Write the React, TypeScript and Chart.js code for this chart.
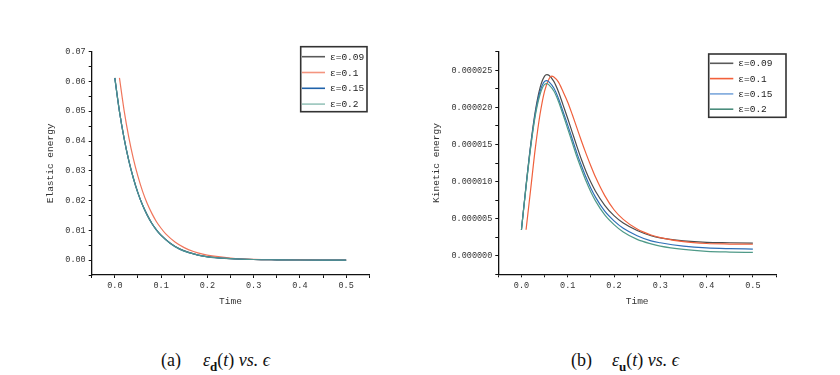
import React, { useEffect, useRef } from "react";
import { Chart, registerables } from "chart.js";

Chart.register(...registerables);

// ---------- DATA ----------
const seriesLabels = ["ε=0.09", "ε=0.1", "ε=0.15", "ε=0.2"];

// Elastic energy (a)
const elasticTime = [0, 0.01, 0.02, 0.03, 0.04, 0.05, 0.06, 0.07, 0.08, 0.09, 0.1, 0.12, 0.14, 0.16, 0.18, 0.2, 0.25, 0.3, 0.35, 0.4, 0.45, 0.5];
const elasticTimeEps01 = [0.01, 0.02, 0.03, 0.04, 0.05, 0.06, 0.07, 0.08, 0.09, 0.1, 0.11, 0.13, 0.15, 0.17, 0.19, 0.21, 0.25, 0.3, 0.35, 0.4, 0.45, 0.5];
const elasticEps009 = [0.0612, 0.05, 0.041, 0.0336, 0.0276, 0.0226, 0.0185, 0.0152, 0.0124, 0.0102, 0.0084, 0.0057, 0.0038, 0.0026, 0.0017, 0.0012, 0.0005, 0.0002, 0.0001, 0.00005, 0.00002, 0.00001];
const elasticEps01 = [0.0612, 0.0503, 0.0414, 0.0341, 0.0281, 0.0231, 0.019, 0.0157, 0.0129, 0.0107, 0.0088, 0.0061, 0.0042, 0.0029, 0.002, 0.0014, 0.0007, 0.00025, 0.0001, 0.00005, 0.00002, 0.00001];
const elasticEps015 = [0.0611, 0.0499, 0.0409, 0.0335, 0.0275, 0.0225, 0.0184, 0.0151, 0.0123, 0.0101, 0.0083, 0.0056, 0.0037, 0.0025, 0.0017, 0.0011, 0.0005, 0.0002, 0.0001, 0.00004, 0.00002, 0.00001];
const elasticEps02 = [0.0611, 0.0499, 0.0409, 0.0335, 0.0275, 0.0225, 0.0184, 0.0151, 0.0123, 0.0101, 0.0083, 0.0056, 0.0037, 0.0025, 0.0017, 0.0011, 0.0005, 0.0002, 0.0001, 0.00004, 0.00002, 0.00001];

// Kinetic energy (b)
const kineticTime = [0, 0.01, 0.02, 0.03, 0.04, 0.05, 0.055, 0.06, 0.07, 0.08, 0.09, 0.1, 0.11, 0.12, 0.13, 0.14, 0.15, 0.16, 0.18, 0.2, 0.22, 0.25, 0.28, 0.3, 0.35, 0.4, 0.45, 0.5];
const kineticTimeEps01 = [0.01, 0.02, 0.03, 0.04, 0.05, 0.06, 0.065, 0.07, 0.08, 0.09, 0.1, 0.11, 0.12, 0.13, 0.14, 0.15, 0.16, 0.18, 0.2, 0.22, 0.25, 0.28, 0.3, 0.35, 0.4, 0.45, 0.5];
const kineticEps009 = [3.5e-6, 9.5e-6, 15.0e-6, 19.5e-6, 22.6e-6, 24.2e-6, 24.4e-6, 24.3e-6, 23.5e-6, 22.1e-6, 20.3e-6, 18.5e-6, 16.6e-6, 14.7e-6, 12.9e-6, 11.3e-6, 9.9e-6, 8.7e-6, 6.8e-6, 5.4e-6, 4.4e-6, 3.4e-6, 2.7e-6, 2.4e-6, 2.0e-6, 1.8e-6, 1.75e-6, 1.7e-6];
const kineticEps01 = [3.5e-6, 9.0e-6, 14.5e-6, 19.0e-6, 22.2e-6, 23.9e-6, 24.2e-6, 24.1e-6, 23.4e-6, 22.1e-6, 20.7e-6, 19.0e-6, 17.2e-6, 15.4e-6, 13.7e-6, 12.1e-6, 10.6e-6, 8.1e-6, 6.2e-6, 4.9e-6, 3.6e-6, 2.8e-6, 2.45e-6, 1.9e-6, 1.65e-6, 1.58e-6, 1.55e-6];
const kineticEps015 = [3.5e-6, 9.4e-6, 14.8e-6, 19.2e-6, 22.1e-6, 23.5e-6, 23.6e-6, 23.4e-6, 22.6e-6, 21.2e-6, 19.4e-6, 17.6e-6, 15.7e-6, 13.8e-6, 12.1e-6, 10.5e-6, 9.1e-6, 7.9e-6, 6.0e-6, 4.7e-6, 3.7e-6, 2.7e-6, 2.0e-6, 1.75e-6, 1.3e-6, 1.05e-6, 0.95e-6, 0.9e-6];
const kineticEps02 = [3.5e-6, 9.3e-6, 14.6e-6, 18.9e-6, 21.7e-6, 23.1e-6, 23.2e-6, 23.0e-6, 22.2e-6, 20.8e-6, 19.0e-6, 17.1e-6, 15.2e-6, 13.3e-6, 11.6e-6, 10.0e-6, 8.6e-6, 7.4e-6, 5.5e-6, 4.2e-6, 3.2e-6, 2.2e-6, 1.6e-6, 1.3e-6, 0.85e-6, 0.6e-6, 0.5e-6, 0.45e-6];

// Ticks
const xTickValues = [-0.05, 0, 0.05, 0.1, 0.15, 0.2, 0.25, 0.3, 0.35, 0.4, 0.45, 0.5, 0.55];
const xTickLabels = ["", "0.0", "", "0.1", "", "0.2", "", "0.3", "", "0.4", "", "0.5", ""];
const elasticYTickValues = [-0.005, 0, 0.005, 0.01, 0.015, 0.02, 0.025, 0.03, 0.035, 0.04, 0.045, 0.05, 0.055, 0.06, 0.065, 0.07];
const elasticYTickLabels = ["", "0.00", "", "0.01", "", "0.02", "", "0.03", "", "0.04", "", "0.05", "", "0.06", "", "0.07"];
const kineticYTickValues = [-2.5e-6, 0, 2.5e-6, 5e-6, 7.5e-6, 10e-6, 12.5e-6, 15e-6, 17.5e-6, 20e-6, 22.5e-6, 25e-6, 27.5e-6];
const kineticYTickLabels = ["", "0.000000", "", "0.000005", "", "0.000010", "", "0.000015", "", "0.000020", "", "0.000025", ""];

// ---------- STYLE ----------
const MONO = "'Liberation Mono', 'DejaVu Sans Mono', monospace";
const elasticLineColors = ["#555555", "#f0765c", "#2a68aa", "#4e9490"];
const elasticLegendColors = ["#5a5a5a", "#f4957f", "#1f62aa", "#98c4bb"];
const kineticLineColors = ["#4d4d4d", "#f0603c", "#2f6fb8", "#4f9a88"];
const kineticLegendColors = ["#5a5a5a", "#f2603a", "#7ba7dc", "#4a8c7c"];

const toPoints = (xs: number[], ys: number[]) => xs.map((x, i) => ({ x, y: ys[i] }));

const boxLegend = {
  id: "boxLegend",
  afterDraw(chart: any, _args: any, opts: any) {
    const { ctx } = chart;
    ctx.save();
    ctx.fillStyle = "#ffffff";
    ctx.fillRect(opts.left, opts.top, opts.width, opts.height);
    ctx.strokeStyle = "#333333";
    ctx.lineWidth = 1.6;
    ctx.strokeRect(opts.left, opts.top, opts.width, opts.height);
    ctx.font = `9.5px ${MONO}`;
    ctx.textBaseline = "middle";
    ctx.textAlign = "left";
    opts.labels.forEach((lab: string, i: number) => {
      const y = opts.firstRow + i * opts.rowGap;
      ctx.strokeStyle = opts.colors[i];
      ctx.lineWidth = 1.6;
      ctx.beginPath();
      ctx.moveTo(opts.lineX0, y);
      ctx.lineTo(opts.lineX1, y);
      ctx.stroke();
      ctx.fillStyle = "#222222";
      ctx.fillText(lab, opts.textX, y + 0.5);
    });
    ctx.restore();
  },
};

function makeConfig(p: any) {
  const datasets = p.series.map((s: any, i: number) => ({
    label: seriesLabels[i],
    data: toPoints(s.t, s.v),
    borderColor: p.lineColors[i],
    borderWidth: 1.2,
    pointRadius: 0,
    fill: false,
    cubicInterpolationMode: "monotone",
    order: 4 - i,
  }));
  const tickFont = { family: MONO, size: 8.5 };
  const titleFont = { family: MONO, size: 9.5 };
  return {
    type: "line",
    data: { datasets },
    plugins: [boxLegend],
    options: {
      animation: false,
      responsive: false,
      events: [],
      layout: { padding: p.padding },
      plugins: {
        legend: { display: false },
        tooltip: { enabled: false },
        boxLegend: p.legend,
      },
      scales: {
        x: {
          type: "linear",
          min: -0.05,
          max: 0.55,
          border: { display: true, color: "#111", width: 1.3 },
          grid: { display: true, drawOnChartArea: false, drawTicks: true, tickLength: 3, color: "#111", lineWidth: 1 },
          afterBuildTicks: (s: any) => {
            s.ticks = xTickValues.map((value) => ({ value }));
          },
          ticks: {
            autoSkip: false,
            maxRotation: 0,
            padding: 3,
            color: "#333",
            font: tickFont,
            callback: (_v: any, i: number) => xTickLabels[i],
          },
          title: { display: true, text: "Time", color: "#333", font: titleFont, padding: 0 },
          afterFit: (s: any) => {
            s.height = 32.4;
          },
        },
        y: {
          type: "linear",
          min: p.yMin,
          max: p.yMax,
          border: { display: true, color: "#111", width: 1.3 },
          grid: { display: true, drawOnChartArea: false, drawTicks: true, tickLength: 3, color: "#111", lineWidth: 1 },
          afterBuildTicks: (s: any) => {
            s.ticks = p.yTickValues.map((value: number) => ({ value }));
          },
          ticks: {
            autoSkip: false,
            padding: 3,
            color: "#333",
            font: tickFont,
            callback: (_v: any, i: number) => p.yTickLabels[i],
          },
          title: { display: true, text: p.yTitle, color: "#333", font: titleFont, padding: 0 },
          afterFit: (s: any) => {
            s.width = p.yWidth;
          },
        },
      },
    },
  };
}

const configA = () =>
  makeConfig({
    series: [
      { t: elasticTime, v: elasticEps009 },
      { t: elasticTimeEps01, v: elasticEps01 },
      { t: elasticTime, v: elasticEps015 },
      { t: elasticTime, v: elasticEps02 },
    ],
    lineColors: elasticLineColors,
    padding: { left: 45, top: 51.7, right: 50.7, bottom: 27.6 },
    yWidth: 46.7,
    yMin: -0.005,
    yMax: 0.07,
    yTickValues: elasticYTickValues,
    yTickLabels: elasticYTickLabels,
    yTitle: "Elastic energy",
    legend: {
      left: 300.7, top: 46.7, width: 66.3, height: 65,
      firstRow: 56.7, rowGap: 15.8, lineX0: 302, lineX1: 325, textX: 330,
      colors: elasticLegendColors, labels: seriesLabels,
    },
  });

const configB = () =>
  makeConfig({
    series: [
      { t: kineticTime, v: kineticEps009 },
      { t: kineticTimeEps01, v: kineticEps01 },
      { t: kineticTime, v: kineticEps015 },
      { t: kineticTime, v: kineticEps02 },
    ],
    lineColors: kineticLineColors,
    padding: { left: 11, top: 51.7, right: 64, bottom: 28.3 },
    yWidth: 67.3,
    yMin: -2.5e-6,
    yMax: 27.5e-6,
    yTickValues: kineticYTickValues,
    yTickLabels: kineticYTickLabels,
    yTitle: "Kinetic energy",
    legend: {
      left: 288.7, top: 54, width: 77.3, height: 63.3,
      firstRow: 63.3, rowGap: 15.3, lineX0: 290, lineX1: 313.3, textX: 318.3,
      colors: kineticLegendColors, labels: seriesLabels,
    },
  });

const captionStyle: React.CSSProperties = {
  position: "absolute",
  top: 348,
  fontFamily: "'Liberation Serif', 'Times New Roman', serif",
  fontSize: 18,
  lineHeight: "24px",
  color: "#111",
  whiteSpace: "nowrap",
};

export default function App() {
  const refA = useRef<HTMLCanvasElement>(null);
  const refB = useRef<HTMLCanvasElement>(null);
  useEffect(() => {
    const a = new Chart(refA.current as HTMLCanvasElement, configA() as any);
    const b = new Chart(refB.current as HTMLCanvasElement, configB() as any);
    return () => {
      a.destroy();
      b.destroy();
    };
  }, []);
  return (
    <div style={{ position: "fixed", left: 0, top: 0, width: 840, height: 375, background: "#fff", overflow: "hidden" }}>
      <canvas ref={refA} width={420} height={335} style={{ position: "absolute", left: 0, top: 0 }} />
      <canvas ref={refB} width={420} height={335} style={{ position: "absolute", left: 420, top: 0 }} />
      <div style={{ ...captionStyle, left: 161 }}>(a)</div>
      <div style={{ ...captionStyle, left: 203 }}>
        <i>ε</i>
        <sub style={{ fontSize: 13, fontWeight: "bold" }}>d</sub>(<i>t</i>) <i>vs.</i> <i>ϵ</i>
      </div>
      <div style={{ ...captionStyle, left: 571 }}>(b)</div>
      <div style={{ ...captionStyle, left: 612 }}>
        <i>ε</i>
        <sub style={{ fontSize: 13, fontWeight: "bold" }}>u</sub>(<i>t</i>) <i>vs.</i> <i>ϵ</i>
      </div>
    </div>
  );
}
